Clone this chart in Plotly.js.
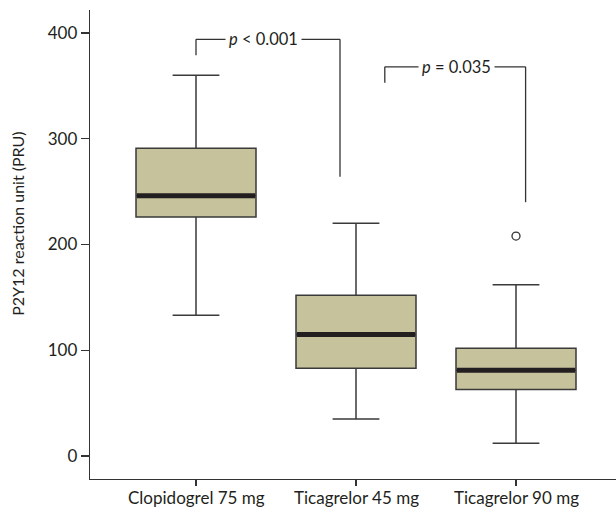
<!DOCTYPE html>
<html>
<head>
<meta charset="utf-8">
<script src="https://cdn.plot.ly/plotly-3.0.1.min.js"></script>
<style>html,body{margin:0;padding:0;background:#fff;}#chart{width:616px;height:508px;}</style>
</head>
<body>
<div id="chart"></div>
<script>
const categories = ["Clopidogrel 75 mg", "Ticagrelor 45 mg", "Ticagrelor 90 mg"];
const lowerFence = [133, 35, 12];
const q1 = [226, 83, 63];
const median = [246, 115, 81];
const q3 = [291, 152, 102];
const upperFence = [360, 220, 162];
const outlierX = [2];
const outlierY = [208];
const yTicks = [0, 100, 200, 300, 400];

const pos = categories.map((c, i) => i);
const boxW = 0.75;
const textColor = "#231f20";
const fontFam = "Lato, 'Open Sans', sans-serif";

const boxTrace = {
  type: "box",
  x: pos,
  q1: q1, median: median, q3: q3,
  lowerfence: lowerFence, upperfence: upperFence,
  width: boxW,
  whiskerwidth: 0.39,
  fillcolor: "#c6c29b",
  line: {color: "#3a3a3a", width: 1.5},
  boxpoints: false,
  hoverinfo: "skip",
  showlegend: false
};

const mx = [], my = [];
pos.forEach((p, i) => { mx.push(p - boxW/2 + 0.005, p + boxW/2 - 0.005, null); my.push(median[i], median[i], null); });
const medTrace = {type: "scatter", mode: "lines", x: mx, y: my, line: {color: "#231f20", width: 5}, hoverinfo: "skip", showlegend: false};

const outTrace = {type: "scatter", mode: "markers", x: outlierX, y: outlierY,
  marker: {symbol: "circle-open", size: 8, color: "#333", line: {width: 1.3}}, hoverinfo: "skip", showlegend: false};

// significance brackets
const brackets = [
  {x0: 0.0, x1: 0.9, top: 394, leftBottom: 379, rightBottom: 264, text: "<i>p</i> < 0.001", xt: 0.42},
  {x0: 1.18, x1: 2.06, top: 368, leftBottom: 353, rightBottom: 240, text: "<i>p</i> = 0.035", xt: 1.625}
];
const shapes = [];
const annotations = [];
brackets.forEach(b => {
  const ln = {color: "#333", width: 1.3};
  shapes.push({type: "line", xref: "x", yref: "y", x0: b.x0, x1: b.x1, y0: b.top, y1: b.top, line: ln});
  shapes.push({type: "line", xref: "x", yref: "y", x0: b.x0, x1: b.x0, y0: b.top, y1: b.leftBottom, line: ln});
  shapes.push({type: "line", xref: "x", yref: "y", x0: b.x1, x1: b.x1, y0: b.top, y1: b.rightBottom, line: ln});
  annotations.push({xref: "x", yref: "y", x: b.xt, y: b.top, text: b.text, showarrow: false,
    bgcolor: "#ffffff", borderpad: 3, font: {family: fontFam, size: 16.5, color: textColor}});
});
// category labels
categories.forEach((c, i) => {
  annotations.push({xref: "x", yref: "paper", x: pos[i], y: -0.039, xanchor: "center", yanchor: "middle",
    text: c, showarrow: false, font: {family: fontFam, size: 17, color: textColor}});
});
annotations.push({xref: "paper", yref: "paper", x: -0.137, y: 0.544, xanchor: "center", yanchor: "middle", textangle: -90,
  text: "P2Y12 reaction unit (PRU)", showarrow: false, font: {family: fontFam, size: 16, color: textColor}});

const layout = {
  width: 616, height: 508,
  margin: {l: 90, r: 0, t: 10, b: 29},
  paper_bgcolor: "#fff", plot_bgcolor: "#fff",
  font: {family: fontFam, color: textColor, size: 17},
  xaxis: {
    range: [-0.6625, 2.625],
    tickvals: pos, showticklabels: false,
    showline: true, linecolor: "#333", linewidth: 1.3,
    ticks: "outside", ticklen: 6, tickcolor: "#333", tickwidth: 1.3,
    showgrid: false, zeroline: false
  },
  yaxis: {
    range: [-21.7, 421.7],
    tickvals: yTicks,
    showline: true, linecolor: "#333", linewidth: 1.3,
    ticks: "outside", ticklen: 8, tickcolor: "#333", tickwidth: 1.3,
    showgrid: false, zeroline: false,
    tickfont: {size: 17, color: textColor}
  },
  shapes: shapes,
  annotations: annotations
};

Plotly.newPlot("chart", [boxTrace, medTrace, outTrace], layout, {displayModeBar: false, staticPlot: true});
</script>
</body>
</html>
